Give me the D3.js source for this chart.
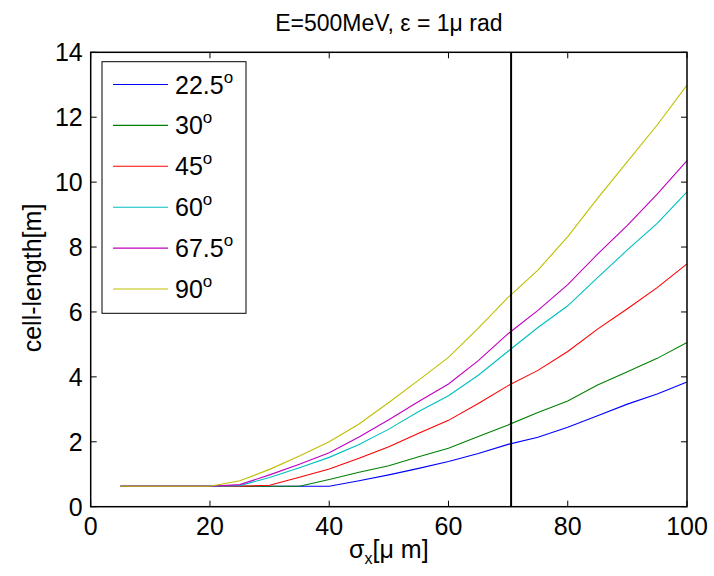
<!DOCTYPE html>
<html>
<head>
<meta charset="utf-8">
<script src="https://cdn.jsdelivr.net/npm/d3@7"></script>
<style>
  body { margin: 0; background: #fff; }
  text { font-family: "Liberation Sans", Arial, sans-serif; fill: #000; }
</style>
</head>
<body>
<script>
// Data
var sigma = [5, 10, 15, 20, 25, 30, 35, 40, 45, 50, 55, 60, 65, 70, 75, 80, 85, 90, 95, 100];
var angles = ["22.5", "30", "45", "60", "67.5", "90"];
var colors = ["#0000ff", "#008000", "#ff0000", "#00bfbf", "#bf00bf", "#bfbf00"];
var len225 = [0.63, 0.63, 0.63, 0.63, 0.63, 0.63, 0.63, 0.63, 0.80, 0.98, 1.18, 1.39, 1.64, 1.92, 2.14, 2.45, 2.80, 3.16, 3.47, 3.84];
var len30  = [0.63, 0.63, 0.63, 0.63, 0.63, 0.63, 0.63, 0.84, 1.06, 1.26, 1.54, 1.80, 2.16, 2.52, 2.90, 3.26, 3.75, 4.16, 4.57, 5.06];
var len45  = [0.63, 0.63, 0.63, 0.63, 0.63, 0.66, 0.91, 1.16, 1.49, 1.85, 2.26, 2.66, 3.18, 3.73, 4.20, 4.78, 5.47, 6.10, 6.75, 7.48];
var len60  = [0.63, 0.63, 0.63, 0.63, 0.65, 0.90, 1.20, 1.52, 1.92, 2.39, 2.93, 3.42, 4.05, 4.79, 5.52, 6.19, 7.06, 7.91, 8.73, 9.70];
var len675 = [0.63, 0.63, 0.63, 0.63, 0.68, 0.98, 1.31, 1.66, 2.15, 2.68, 3.24, 3.78, 4.50, 5.33, 6.05, 6.84, 7.78, 8.67, 9.63, 10.66];
var len90  = [0.63, 0.63, 0.63, 0.63, 0.80, 1.15, 1.56, 2.00, 2.55, 3.21, 3.90, 4.60, 5.50, 6.45, 7.29, 8.32, 9.50, 10.63, 11.76, 12.99];
var series = [len225, len30, len45, len60, len675, len90];
var xTicks = [0, 20, 40, 60, 80, 100];
var yTicks = [0, 2, 4, 6, 8, 10, 12, 14];
var markerX = 70.5;

// Skalaer
var W = 714, H = 576;
var pL = 90.7, pR = 687, pT = 52.3, pB = 506.7;
var x = d3.scaleLinear().domain([0, 100]).range([pL, pR]);
var y = d3.scaleLinear().domain([0, 14]).range([pB, pT]);

var svg = d3.select("body").append("svg").attr("width", W).attr("height", H);

// Kurver
var line = d3.line()
  .x(function(d, i) { return x(sigma[i]); })
  .y(function(d) { return y(d); });

svg.selectAll(".curve")
  .data(series)
  .enter()
  .append("path")
  .attr("class", "curve")
  .attr("d", line)
  .attr("fill", "none")
  .attr("stroke", function(d, i) { return colors[i]; })
  .attr("stroke-width", 1.1);

// Lodret linje
svg.append("line")
  .attr("x1", x(markerX)).attr("x2", x(markerX))
  .attr("y1", y(0)).attr("y2", y(14))
  .attr("stroke", "#000").attr("stroke-width", 2);

// Aksen (boks + ticks indad)
var axisColor = "#000";
svg.append("rect")
  .attr("x", pL).attr("y", pT)
  .attr("width", pR - pL).attr("height", pB - pT)
  .attr("fill", "none").attr("stroke", axisColor).attr("stroke-width", 1.5);

var tl = 6;
svg.selectAll(".xt")
  .data(xTicks)
  .enter()
  .append("path")
  .attr("d", function(d) {
    var px = x(d);
    return "M" + px + "," + pB + "v" + (-tl) + "M" + px + "," + pT + "v" + tl;
  })
  .attr("stroke", axisColor).attr("stroke-width", 1);

svg.selectAll(".yt")
  .data(yTicks)
  .enter()
  .append("path")
  .attr("d", function(d) {
    var py = y(d);
    return "M" + pL + "," + py + "h" + tl + "M" + pR + "," + py + "h" + (-tl);
  })
  .attr("stroke", axisColor).attr("stroke-width", 1);

svg.selectAll(".xl")
  .data(xTicks)
  .enter()
  .append("text")
  .attr("x", function(d) { return x(d); })
  .attr("y", 535)
  .attr("text-anchor", "middle")
  .attr("font-size", 25)
  .text(function(d) { return d; });

svg.selectAll(".yl")
  .data(yTicks)
  .enter()
  .append("text")
  .attr("x", pL - 8)
  .attr("y", function(d) { return y(d) + 9; })
  .attr("text-anchor", "end")
  .attr("font-size", 25)
  .text(function(d) { return d; });

// Titel og aksetitler
svg.append("text")
  .attr("x", (pL + pR) / 2).attr("y", 31)
  .attr("text-anchor", "middle").attr("font-size", 23)
  .text("E=500MeV, \u03b5 = 1\u03bc rad");

var xlab = svg.append("text")
  .attr("x", (pL + pR) / 2).attr("y", 558)
  .attr("text-anchor", "middle").attr("font-size", 25);
xlab.append("tspan").text("\u03c3");
xlab.append("tspan").attr("font-size", 16).attr("dy", 6).text("x");
xlab.append("tspan").attr("dy", -6).text("[\u03bc m]");

svg.append("text")
  .attr("transform", "translate(41,278) rotate(-90)")
  .attr("text-anchor", "middle").attr("font-size", 25)
  .text("cell-length[m]");

// Legende
var lg = svg.append("g");
lg.append("rect")
  .attr("x", 102).attr("y", 61.7)
  .attr("width", 144).attr("height", 251.6)
  .attr("fill", "#fff").attr("stroke", "#000").attr("stroke-width", 1);

var items = lg.selectAll(".item")
  .data(angles)
  .enter()
  .append("g")
  .attr("transform", function(d, i) { return "translate(0," + (84.5 + i * 40.9) + ")"; });

items.append("line")
  .attr("x1", 113).attr("x2", 168)
  .attr("stroke", function(d, i) { return colors[i]; })
  .attr("stroke-width", 1.1);

var lt = items.append("text")
  .attr("x", 175).attr("y", 9)
  .attr("font-size", 25);
lt.append("tspan").text(function(d) { return d; });
lt.append("tspan").attr("dy", -11).attr("font-size", 17).text("o");
</script>
</body>
</html>
